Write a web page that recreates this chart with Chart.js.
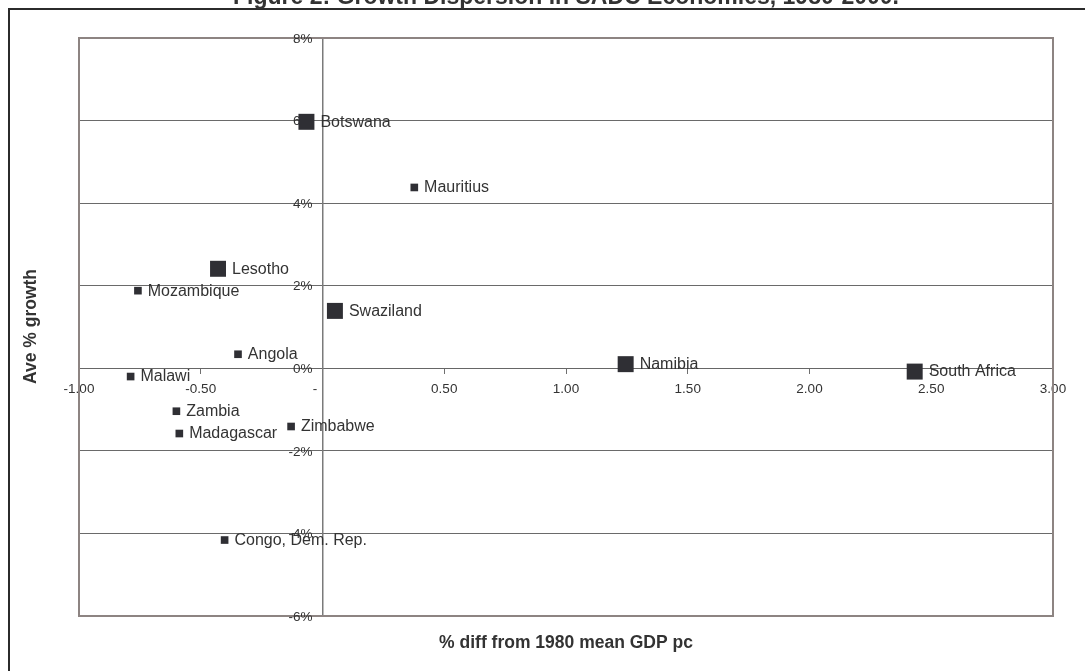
<!DOCTYPE html>
<html>
<head>
<meta charset="utf-8">
<title>Growth Dispersion in SADC Economies</title>
<script src="https://cdn.jsdelivr.net/npm/chart.js@4.4.1/dist/chart.umd.min.js"></script>
<style>
  html, body { margin: 0; padding: 0; background: #ffffff; }
  #wrap { width: 1085px; height: 671px; position: relative; overflow: hidden; }
  canvas { display: block; }
</style>
</head>
<body>
<div id="wrap"><canvas id="chart" width="1085" height="671"></canvas></div>
<script>
// SACU members (large markers)
const sacuCountries = ['Botswana', 'Lesotho', 'Swaziland', 'Namibia', 'South Africa'];
const sacuGdpDiff   = [-0.066, -0.429, 0.051, 1.245, 2.432];
const sacuGrowth    = [5.97, 2.41, 1.39, 0.10, -0.08];

// Other SADC members (small markers)
const otherCountries = ['Mauritius', 'Mozambique', 'Angola', 'Malawi', 'Zambia', 'Madagascar', 'Zimbabwe', 'Congo, Dem. Rep.'];
const otherGdpDiff   = [0.377, -0.758, -0.347, -0.788, -0.600, -0.588, -0.129, -0.402];
const otherGrowth    = [4.38, 1.88, 0.34, -0.20, -1.04, -1.58, -1.41, -4.16];

// Axis tick labels (accounting-style zero on the x axis)
const xTickLabels = ['-1.00', '-0.50', '-\u2007\u2007', '0.50', '1.00', '1.50', '2.00', '2.50', '3.00'];
const yTickLabels = ['-6%', '-4%', '-2%', '0%', '2%', '4%', '6%', '8%'];

const titleText  = 'Figure 2: Growth Dispersion in SADC Economies, 1980-2000.';
const xAxisTitle = '% diff from 1980 mean GDP pc';
const yAxisTitle = 'Ave % growth';

const FONT = '"Liberation Sans", Arial, Helvetica, sans-serif';
const TEXT = '#333333';
const MARK = '#2f2f34';

const toPoints = (xs, ys) => xs.map((x, i) => ({ x: x, y: ys[i] }));

const decorations = {
  id: 'decorations',
  beforeDraw(chart) {
    const ctx = chart.ctx;
    ctx.save();
    ctx.fillStyle = '#ffffff';
    ctx.fillRect(0, 0, chart.width, chart.height);
    ctx.restore();
  },
  beforeDatasetsDraw(chart) {
    const ctx = chart.ctx;
    const ca = chart.chartArea;
    const xs = chart.scales.x;
    const ys = chart.scales.y;
    ctx.save();
    // plot-area frame
    ctx.strokeStyle = '#8d8482';
    ctx.lineWidth = 2;
    ctx.strokeRect(ca.left, ca.top, ca.right - ca.left, ca.bottom - ca.top);
    // y tick labels, left of the vertical axis through zero
    const x0 = xs.getPixelForValue(0);
    ctx.font = '13.5px ' + FONT;
    ctx.fillStyle = TEXT;
    ctx.textAlign = 'right';
    ctx.textBaseline = 'middle';
    ys.ticks.forEach((t, i) => {
      ctx.fillText(yTickLabels[i], x0 - 10, ys.getPixelForValue(t.value) + 1);
    });
    ctx.restore();
  },
  afterDatasetsDraw(chart) {
    const ctx = chart.ctx;
    ctx.save();
    ctx.font = '16px ' + FONT;
    ctx.fillStyle = TEXT;
    ctx.textAlign = 'left';
    ctx.textBaseline = 'middle';
    chart.data.datasets.forEach((ds, di) => {
      const meta = chart.getDatasetMeta(di);
      const half = ds.pointRadius * Math.SQRT1_2;
      meta.data.forEach((el, i) => {
        ctx.fillText(ds.names[i], el.x + half + 6, el.y + 0.5);
      });
    });
    ctx.restore();
  },
  afterDraw(chart) {
    const ctx = chart.ctx;
    const ca = chart.chartArea;
    ctx.save();
    // outer frame (top and left edges)
    ctx.strokeStyle = '#2b2b2b';
    ctx.lineWidth = 2;
    ctx.beginPath();
    ctx.moveTo(9, chart.height);
    ctx.lineTo(9, 9);
    ctx.lineTo(chart.width, 9);
    ctx.stroke();
    // title (sits above the frame, mostly outside the canvas)
    ctx.fillStyle = TEXT;
    ctx.font = 'bold 23px ' + FONT;
    ctx.textAlign = 'center';
    ctx.textBaseline = 'alphabetic';
    ctx.fillText(titleText, (ca.left + ca.right) / 2, 4);
    // axis titles
    ctx.font = 'bold 17.5px ' + FONT;
    ctx.fillText(xAxisTitle, (ca.left + ca.right) / 2, 648);
    ctx.translate(31, (ca.top + ca.bottom) / 2 - 0.5);
    ctx.rotate(-Math.PI / 2);
    ctx.textBaseline = 'middle';
    ctx.fillText(yAxisTitle, 0, 0);
    ctx.restore();
  }
};

new Chart(document.getElementById('chart').getContext('2d'), {
  type: 'scatter',
  data: {
    datasets: [
      {
        label: 'SACU',
        names: sacuCountries,
        data: toPoints(sacuGdpDiff, sacuGrowth),
        pointStyle: 'rect',
        pointRadius: 11.3,
        backgroundColor: MARK,
        borderColor: MARK,
        borderWidth: 0
      },
      {
        label: 'Other SADC',
        names: otherCountries,
        data: toPoints(otherGdpDiff, otherGrowth),
        pointStyle: 'rect',
        pointRadius: 5.4,
        backgroundColor: MARK,
        borderColor: MARK,
        borderWidth: 0
      }
    ]
  },
  options: {
    responsive: false,
    animation: false,
    events: [],
    devicePixelRatio: 1,
    layout: { padding: { left: 79, top: 38, right: 32, bottom: 55 } },
    plugins: {
      legend: { display: false },
      tooltip: { enabled: false },
      title: { display: false }
    },
    scales: {
      x: {
        type: 'linear',
        position: { y: 0 },
        min: -1,
        max: 3,
        ticks: {
          stepSize: 0.5,
          autoSkip: false,
          maxRotation: 0,
          padding: 8,
          color: TEXT,
          font: { family: FONT, size: 13.5 },
          callback: (v, i) => xTickLabels[i]
        },
        grid: { drawOnChartArea: false, drawTicks: true, tickLength: 5, color: '#6f6f6f' },
        border: { display: true, color: '#666666', width: 1 }
      },
      y: {
        type: 'linear',
        position: { x: 0 },
        min: -6,
        max: 8,
        ticks: { stepSize: 2, display: false },
        grid: { color: '#6a6a6a', lineWidth: 1, drawTicks: true, tickLength: 5 },
        border: { display: true, color: '#7a7a7a', width: 1.5 }
      }
    }
  },
  plugins: [decorations]
});
</script>
</body>
</html>
